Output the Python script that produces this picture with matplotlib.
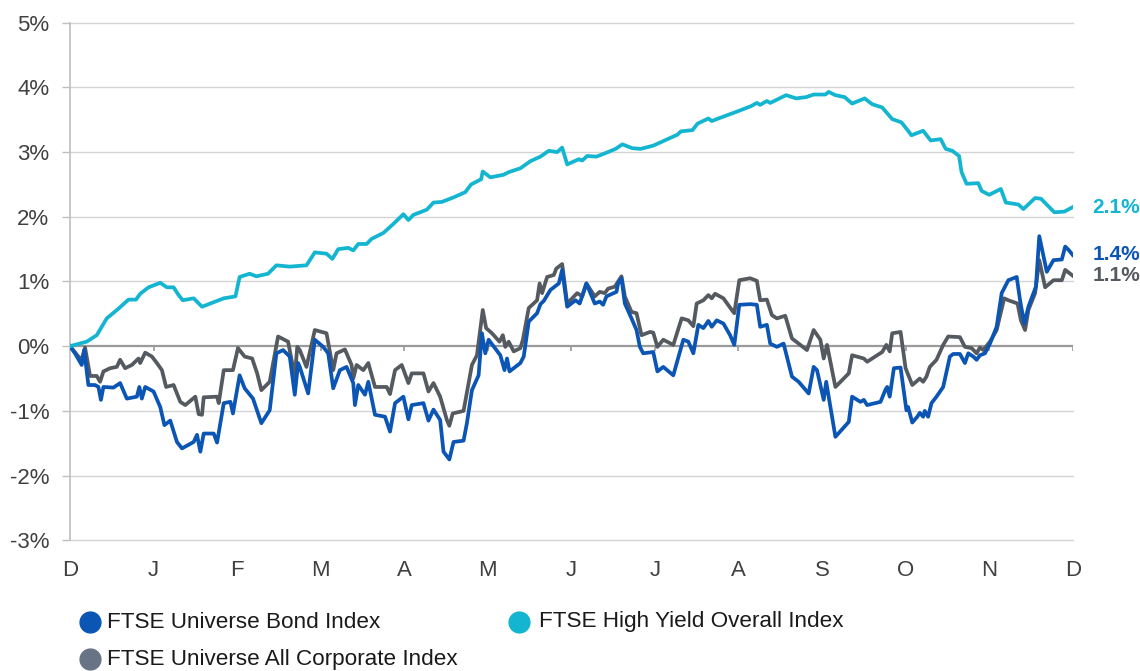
import matplotlib
matplotlib.use('Agg')
import matplotlib.pyplot as plt
from matplotlib.lines import Line2D

plt.rcParams['font.family'] = ['Liberation Sans', 'DejaVu Sans']

# month labels, x in months from start (0 = D ... 12 = D)
months = ['D', 'J', 'F', 'M', 'A', 'M', 'J', 'J', 'A', 'S', 'O', 'N', 'D']

# FTSE High Yield Overall Index (cumulative return, %)
hy_x = [0.00, 0.20, 0.32, 0.44, 0.58, 0.70, 0.79, 0.84, 0.94, 1.08, 1.16, 1.24, 1.30, 1.35,
        1.48, 1.58, 1.68, 1.84, 1.98, 2.03, 2.15, 2.23, 2.37, 2.47, 2.63, 2.83, 2.93, 3.07,
        3.14, 3.21, 3.33, 3.39, 3.45, 3.55, 3.61, 3.75, 3.87, 3.99, 4.05, 4.11, 4.27, 4.35,
        4.45, 4.51, 4.59, 4.73, 4.80, 4.92, 4.94, 5.03, 5.19, 5.25, 5.39, 5.51, 5.63, 5.73,
        5.83, 5.89, 5.95, 6.09, 6.13, 6.19, 6.30, 6.40, 6.53, 6.61, 6.73, 6.83, 6.98, 7.10,
        7.27, 7.31, 7.45, 7.51, 7.64, 7.68, 7.76, 7.99, 8.15, 8.22, 8.26, 8.34, 8.38, 8.57,
        8.69, 8.81, 8.90, 9.04, 9.08, 9.16, 9.27, 9.36, 9.51, 9.60, 9.72, 9.84, 9.95, 10.03,
        10.07, 10.21, 10.30, 10.42, 10.48, 10.56, 10.64, 10.67, 10.73, 10.87, 10.91, 11.00,
        11.14, 11.20, 11.35, 11.41, 11.55, 11.62, 11.78, 11.90, 12.00]
hy_y = [0.00, 0.07, 0.17, 0.43, 0.58, 0.72, 0.72, 0.81, 0.91, 0.98, 0.91, 0.91, 0.79, 0.71,
        0.74, 0.61, 0.66, 0.74, 0.77, 1.07, 1.12, 1.08, 1.12, 1.25, 1.23, 1.25, 1.45, 1.43,
        1.35, 1.50, 1.52, 1.48, 1.58, 1.58, 1.66, 1.75, 1.89, 2.04, 1.95, 2.03, 2.11, 2.22,
        2.23, 2.26, 2.30, 2.38, 2.50, 2.58, 2.70, 2.61, 2.65, 2.69, 2.75, 2.86, 2.93, 3.02,
        3.00, 3.07, 2.81, 2.89, 2.87, 2.94, 2.93, 2.98, 3.05, 3.12, 3.06, 3.05, 3.10, 3.17,
        3.27, 3.32, 3.34, 3.44, 3.52, 3.48, 3.52, 3.63, 3.71, 3.76, 3.73, 3.79, 3.76, 3.88,
        3.83, 3.85, 3.89, 3.89, 3.93, 3.88, 3.85, 3.75, 3.83, 3.74, 3.69, 3.51, 3.46, 3.33,
        3.26, 3.33, 3.18, 3.20, 3.05, 3.02, 2.94, 2.69, 2.51, 2.52, 2.40, 2.34,
        2.43, 2.22, 2.19, 2.12, 2.29, 2.28, 2.07, 2.08, 2.15]

# FTSE Universe Bond Index
bond_x = [0.00, 0.06, 0.14, 0.17, 0.22, 0.30, 0.34, 0.37, 0.40, 0.52, 0.60, 0.68, 0.80, 0.83,
          0.86, 0.90, 1.00, 1.08, 1.13, 1.20, 1.28, 1.34, 1.48, 1.52, 1.56, 1.60, 1.72, 1.76,
          1.84, 1.92, 1.95, 2.03, 2.09, 2.19, 2.29, 2.39, 2.47, 2.55, 2.63, 2.69, 2.73, 2.75,
          2.85, 2.93, 3.03, 3.09, 3.15, 3.23, 3.31, 3.39, 3.41, 3.45, 3.53, 3.57, 3.65, 3.77,
          3.83, 3.89, 3.99, 4.05, 4.09, 4.23, 4.29, 4.35, 4.43, 4.47, 4.54, 4.59, 4.71, 4.75,
          4.81, 4.89, 4.93, 4.97, 5.01, 5.15, 5.20, 5.23, 5.26, 5.39, 5.43, 5.49, 5.59, 5.63,
          5.67, 5.75, 5.85, 5.89, 5.95, 6.05, 6.10, 6.18, 6.28, 6.34, 6.38, 6.42, 6.54, 6.56,
          6.60, 6.64, 6.72, 6.78, 6.82, 6.86, 6.98, 7.03, 7.10, 7.22, 7.34, 7.40, 7.46, 7.52,
          7.58, 7.64, 7.68, 7.74, 7.82, 7.90, 7.95, 8.01, 8.14, 8.22, 8.26, 8.34, 8.38, 8.46,
          8.54, 8.64, 8.72, 8.84, 8.90, 8.94, 9.02, 9.05, 9.16, 9.32, 9.36, 9.46, 9.50, 9.54,
          9.70, 9.76, 9.78, 9.81, 9.86, 9.94, 10.01, 10.03, 10.08, 10.14, 10.17, 10.21, 10.23,
          10.27, 10.31, 10.37, 10.45, 10.53, 10.57, 10.65, 10.71, 10.75, 10.81, 10.85, 10.89,
          10.95, 11.01, 11.09, 11.15, 11.23, 11.33, 11.37, 11.42, 11.47, 11.56, 11.60, 11.69,
          11.77, 11.87, 11.91, 11.95, 12.00]
bond_y = [0.00, -0.11, -0.29, -0.06, -0.60, -0.60, -0.63, -0.83, -0.63, -0.64, -0.57, -0.81,
          -0.78, -0.63, -0.81, -0.63, -0.70, -0.94, -1.22, -1.15, -1.48, -1.58, -1.48, -1.37,
          -1.63, -1.35, -1.35, -1.49, -0.88, -0.86, -1.04, -0.45, -0.65, -0.81, -1.19, -0.99,
          -0.11, -0.06, -0.16, -0.75, -0.26, -0.32, -0.73, 0.10, -0.01, -0.11, -0.65, -0.37,
          -0.32, -0.57, -0.91, -0.60, -0.75, -0.55, -1.06, -1.09, -1.32, -0.88, -0.78, -1.13,
          -0.91, -0.88, -1.15, -0.98, -1.14, -1.63, -1.75, -1.48, -1.46, -1.19, -0.68, -0.45,
          0.20, -0.11, 0.10, -0.14, -0.37, -0.19, -0.39, -0.26, -0.16, 0.38, 0.51, 0.65,
          0.70, 0.87, 0.97, 1.18, 0.61, 0.71, 0.66, 0.97, 0.66, 0.69, 0.64, 0.77, 0.84, 0.97,
          1.05, 0.66, 0.43, 0.25, -0.01, -0.11, -0.09, -0.39, -0.32, -0.45, 0.10, 0.07, -0.11,
          0.33, 0.28, 0.39, 0.30, 0.40, 0.35, 0.17, 0.02, 0.64, 0.65, 0.64, 0.30, 0.33, 0.04,
          -0.01, 0.04, -0.47, -0.55, -0.73, -0.32, -0.37, -0.83, -0.55, -1.40, -1.17, -0.78,
          -0.86, -0.83, -0.91, -0.86, -0.67, -0.63, -0.78, -0.34, -0.33, -0.99, -0.94, -1.18,
          -1.09, -1.03, -1.09, -1.00, -1.09, -0.88, -0.78, -0.63, -0.16, -0.12, -0.12, -0.26,
          -0.11, -0.16, -0.21, -0.14, -0.11, 0.04, 0.30, 0.82, 1.02, 1.07, 0.71, 0.35, 0.61,
          0.92, 1.70, 1.15, 1.33, 1.34, 1.54, 1.49, 1.41]

# FTSE Universe All Corporate Index
corp_x = [0.00, 0.10, 0.14, 0.18, 0.24, 0.32, 0.36, 0.40, 0.48, 0.56, 0.60, 0.66, 0.74, 0.82,
          0.84, 0.90, 0.98, 1.04, 1.10, 1.15, 1.24, 1.32, 1.38, 1.50, 1.54, 1.58, 1.60, 1.76,
          1.78, 1.84, 1.95, 2.01, 2.09, 2.18, 2.24, 2.29, 2.39, 2.49, 2.61, 2.69, 2.72, 2.75,
          2.83, 2.93, 3.07, 3.15, 3.19, 3.29, 3.37, 3.39, 3.43, 3.51, 3.57, 3.65, 3.79, 3.83,
          3.89, 3.97, 4.05, 4.09, 4.23, 4.29, 4.35, 4.43, 4.51, 4.54, 4.58, 4.71, 4.77, 4.81,
          4.87, 4.94, 4.98, 5.05, 5.14, 5.18, 5.21, 5.25, 5.31, 5.39, 5.42, 5.49, 5.59, 5.62,
          5.65, 5.71, 5.79, 5.82, 5.89, 5.95, 6.07, 6.13, 6.18, 6.28, 6.34, 6.40, 6.44, 6.52,
          6.56, 6.60, 6.64, 6.72, 6.78, 6.84, 6.94, 6.98, 7.03, 7.10, 7.22, 7.32, 7.40, 7.46,
          7.50, 7.58, 7.64, 7.68, 7.72, 7.82, 7.92, 7.95, 8.01, 8.14, 8.22, 8.26, 8.34, 8.40,
          8.46, 8.56, 8.64, 8.82, 8.90, 8.98, 9.02, 9.06, 9.16, 9.32, 9.36, 9.50, 9.54, 9.72,
          9.77, 9.81, 9.84, 9.94, 10.00, 10.08, 10.17, 10.21, 10.25, 10.29, 10.37, 10.45,
          10.51, 10.65, 10.71, 10.79, 10.85, 10.89, 10.93, 11.01, 11.09, 11.18, 11.23, 11.34,
          11.38, 11.43, 11.47, 11.55, 11.60, 11.67, 11.77, 11.87, 11.91, 11.95, 12.00]
corp_y = [0.00, -0.16, -0.21, -0.02, -0.46, -0.46, -0.55, -0.39, -0.34, -0.32, -0.21, -0.34,
          -0.29, -0.19, -0.26, -0.10, -0.16, -0.26, -0.37, -0.63, -0.60, -0.86, -0.91, -0.78,
          -1.05, -1.06, -0.79, -0.78, -0.88, -0.37, -0.37, -0.03, -0.16, -0.19, -0.42, -0.68,
          -0.55, 0.15, 0.07, -0.47, -0.01, -0.06, -0.32, 0.25, 0.20, -0.37, -0.11, -0.05,
          -0.29, -0.50, -0.29, -0.37, -0.26, -0.63, -0.63, -0.74, -0.37, -0.29, -0.57, -0.42,
          -0.42, -0.70, -0.57, -0.78, -1.14, -1.23, -1.04, -1.00, -0.57, -0.29, -0.14, 0.56,
          0.28, 0.20, 0.07, 0.17, -0.01, 0.07, -0.08, -0.03, 0.10, 0.59, 0.71, 0.97, 0.82,
          1.07, 1.10, 1.20, 1.27, 0.66, 0.82, 0.77, 0.97, 0.77, 0.84, 0.82, 0.89, 0.92, 1.00,
          1.08, 0.77, 0.53, 0.51, 0.17, 0.22, 0.21, -0.01, 0.10, 0.02, 0.43, 0.40, 0.31, 0.66,
          0.71, 0.79, 0.74, 0.81, 0.74, 0.56, 0.51, 1.02, 1.05, 1.01, 0.71, 0.72, 0.48, 0.43,
          0.47, 0.12, -0.06, 0.25, 0.10, -0.19, 0.02, -0.63, -0.42, -0.14, -0.19, -0.24, -0.09,
          0.02, -0.08, 0.20, 0.22, -0.34, -0.60, -0.50, -0.55, -0.47, -0.32, -0.21, 0.02, 0.15,
          0.14, -0.01, -0.03, -0.11, -0.02, -0.06, 0.07, 0.25, 0.74, 0.71, 0.66, 0.40, 0.25,
          0.56, 0.82, 1.33, 0.91, 1.02, 1.02, 1.18, 1.14, 1.09]

c_hy = '#14b5d0'
c_bond = '#0b55b5'
c_corp = '#555a60'

fig = plt.figure(figsize=(11.4, 6.71), dpi=100)
ax = fig.add_axes([70 / 1140, 1 - 540.3 / 671, 1002.7 / 1140, 517.6 / 671])

for v in range(-3, 6):
    if v == 0:
        continue
    ax.axhline(v, color='#d4d4d4', lw=1.0, zorder=1, clip_on=False)
ax.axhline(0, color='#9a9a9a', lw=1.6, zorder=1)
# small ticks on the zero line
ax.vlines(range(len(months)), -0.07, 0, color='#9a9a9a', lw=1.2, zorder=1)

ax.plot(corp_x, corp_y, color=c_corp, lw=2.7, zorder=3, solid_joinstyle='round')
ax.plot(bond_x, bond_y, color=c_bond, lw=2.7, zorder=4, solid_joinstyle='round')
ax.plot(hy_x, hy_y, color=c_hy, lw=2.7, zorder=5, solid_joinstyle='round')

for xs, ys, c in [(hy_x, hy_y, c_hy), (bond_x, bond_y, c_bond), (corp_x, corp_y, c_corp)]:
    ax.annotate(f'{ys[-1]:.1f}%', xy=(xs[-1], ys[-1]), xytext=(14, 0),
                textcoords='offset points', va='center', ha='left',
                color=c, fontsize=15, fontweight='bold', annotation_clip=False)

ax.set_xlim(0, 12)
ax.set_ylim(-3, 5)
ax.set_yticks(range(-3, 6))
ax.set_yticklabels([f'{v}%' for v in range(-3, 6)])
ax.set_xticks(range(len(months)))
ax.set_xticklabels(months)
ax.tick_params(axis='y', length=6, width=1, color='#bfbfbf', pad=9,
               labelsize=16, labelcolor='#404040')
ax.tick_params(axis='x', length=0, pad=14, labelsize=16, labelcolor='#404040')
for s in ['top', 'right', 'bottom']:
    ax.spines[s].set_visible(False)
ax.spines['left'].set_color('#bfbfbf')
ax.spines['left'].set_linewidth(1.2)

# legend
leg_items = [('FTSE Universe Bond Index', c_bond, 90, 107, 622),
             ('FTSE High Yield Overall Index', c_hy, 519, 539, 622),
             ('FTSE Universe All Corporate Index', '#687485', 90, 107, 659)]
for label, c, mx, tx, py in leg_items:
    fig.add_artist(Line2D([mx / 1140], [1 - py / 671], marker='o', markersize=15,
                          color=c, linestyle='none', transform=fig.transFigure))
    fig.text(tx / 1140, 1 - py / 671, label, fontsize=16.2, color='#1a1a1a',
             va='center', ha='left')

fig.savefig('out.png', dpi=100)
